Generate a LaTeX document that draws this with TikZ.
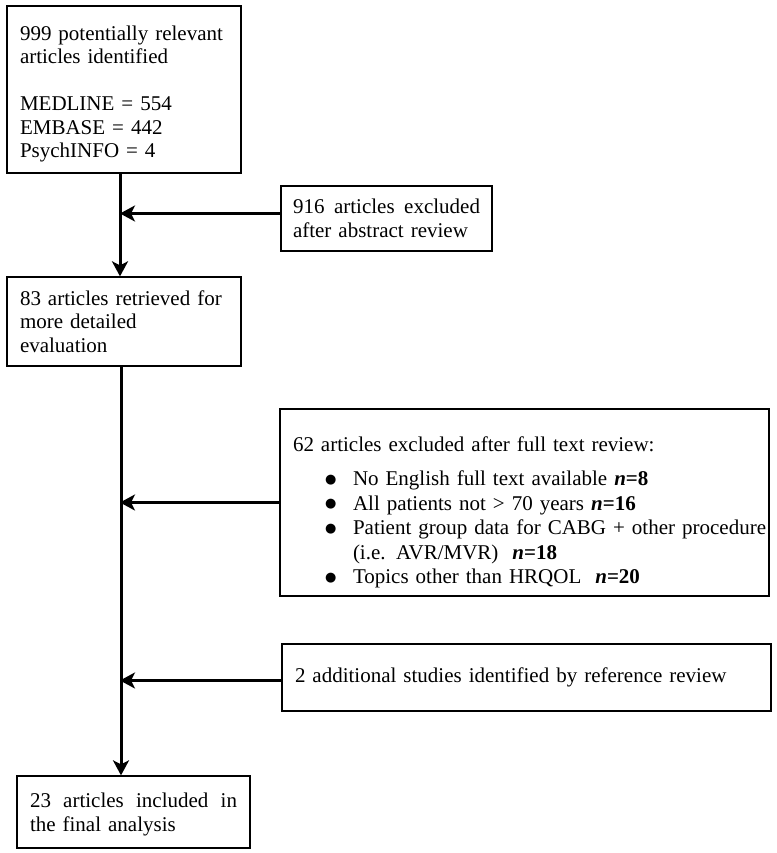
\documentclass[tikz,border=0pt]{standalone}
\usepackage{fontspec}
\setmainfont{Liberation Serif}
\newfontfamily\bulfont{DejaVu Sans}
\usetikzlibrary{arrows.meta}
\newcommand{\bul}{\hspace*{32pt}\makebox[28pt][l]{\raisebox{2.5pt}{\bulfont\fontsize{13}{13}\selectfont ●}}}
\begin{document}
\begin{tikzpicture}[x=1pt,y=1pt,
  box/.style={draw=black, line width=1.3pt, inner sep=0pt, align=left,
    font=\fontsize{21}{23.5}\selectfont},
  flow/.style={line width=3pt, -{Stealth[length=15pt,width=16pt,inset=4pt]}}]
\useasboundingbox (0,0) rectangle (776,-853);
\coordinate (trunk) at (120,0);
\node[box, minimum width=234pt, minimum height=167pt, text width=208pt] (b1) at (124,-89.5)
  {\rule{0pt}{24pt}999 potentially relevant\\articles identified\\[23.5pt]MEDLINE = 554\\EMBASE = 442\\PsychINFO = 4};
\node[box, minimum width=211pt, minimum height=65pt, text width=187pt] (b2) at (386.5,-218.5)
  {\hbox to 187pt{916\hfil\ articles\hfil\ excluded}\\after abstract review};
\node[box, minimum width=234pt, minimum height=89pt, text width=208pt] (b3) at (124,-321.5)
  {83 articles retrieved for\\more detailed\\evaluation};
\node[box, minimum width=489pt, minimum height=187pt, text width=463pt,
  font=\fontsize{21}{24.5}\selectfont] (b4) at (524.5,-502.5)
  {\mbox{\rule{0pt}{34pt}62 articles excluded after full text review:}\\[10pt]
   \mbox{\bul No English full text available \textbf{\textit{n}=8}}\\
   \mbox{\bul All patients not > 70 years \textbf{\textit{n}=16}}\\
   \mbox{\bul Patient group data for CABG + other procedure}\\
   \mbox{\hspace*{60pt}(i.e. AVR/MVR) \ \textbf{\textit{n}=18}}\\
   \mbox{\bul Topics other than HRQOL \ \textbf{\textit{n}=20}}};
\node[box, minimum width=489pt, minimum height=67pt, text width=463pt] (b5) at (526.5,-677.5)
  {2 additional studies identified by reference review};
\node[box, minimum width=233pt, minimum height=72pt, text width=207pt] (b6) at (133.5,-812)
  {\rule{0pt}{20pt}\hbox to 207pt{23\hfil\ articles\hfil\ included\hfil\ in}\\the final analysis};
% trunk connectors
\draw[flow] (b1.south -| trunk) -- (b3.north -| trunk);
\draw[flow] ([xshift=1pt]b3.south -| trunk) -- ([xshift=1pt]b6.north -| trunk);
% side arrows
\draw[flow] ([yshift=5pt]b2.west) -- ([yshift=5pt]b2.west -| trunk);
\draw[flow] (b4.west) -- (b4.west -| trunk);
\draw[flow] ([yshift=-3pt]b5.west) -- ([yshift=-3pt]b5.west -| trunk);
\end{tikzpicture}
\end{document}
